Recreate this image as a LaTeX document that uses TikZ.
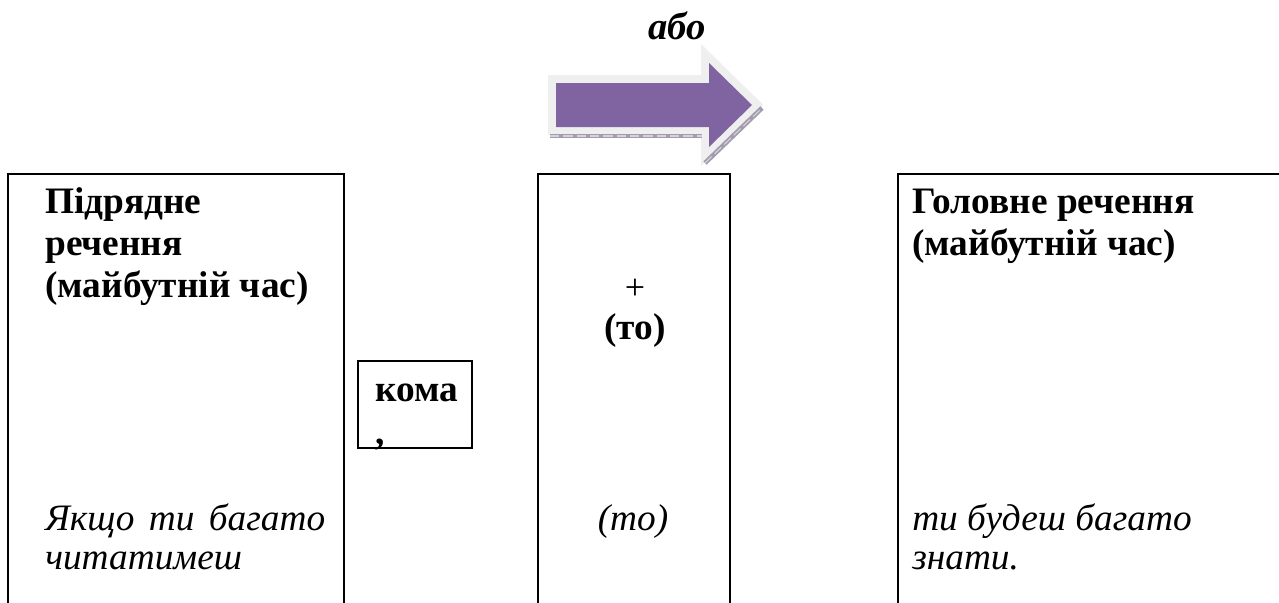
\documentclass[tikz,border=0pt]{standalone}
\usepackage{fontspec}
\setmainfont{Liberation Serif}
\usetikzlibrary{fit}
\definecolor{arrowpurple}{HTML}{8064A2}
\definecolor{arrowglow}{HTML}{EFEFEF}
\definecolor{arrowshade}{HTML}{A39CAE}
\newcommand{\hdfont}{\fontsize{28}{32}\selectfont\bfseries}
\newcommand{\exfont}{\fontsize{28}{32}\selectfont\itshape}

\begin{document}
\begin{tikzpicture}[x=0.75pt,y=-0.75pt,
  frame/.style={draw=black,line width=1.6pt,inner sep=0pt},
  hd/.style={inner sep=0pt,font=\hdfont},
  ex/.style={inner sep=0pt,font=\exfont}]
\clip (0,0) rectangle (1279,603);

% "or" label and the block arrow
\node[inner sep=0pt,font=\fontsize{29}{34}\selectfont\bfseries\itshape,anchor=base] (or) at (677,39) {або};
\draw[arrowglow,line width=12pt,line join=miter,fill=arrowglow]
  (556,83) -- (709,83) -- (709,63) -- (752,105) -- (709,147) -- (709,127) -- (556,127) -- cycle;
\draw[arrowshade,line width=3pt] (550,136) -- (702,136);
\draw[arrowshade,line width=3.5pt] (705,163) -- (762,108);
\draw[white!55!arrowshade,line width=0.8pt,dash pattern=on 7pt off 3pt] (550,136) -- (702,136);
\draw[white!55!arrowshade,line width=0.8pt,dash pattern=on 7pt off 3pt] (705,163) -- (762,108);
\fill[arrowpurple]
  (556,83) -- (709,83) -- (709,63) -- (752,105) -- (709,147) -- (709,127) -- (556,127) -- cycle;

% frames (open at the bottom of the page)
\node[frame,fit={(8,174) (344,640)}] (sub) {};
\node[frame,fit={(358,361) (472,448)}] (comma) {};
\node[frame,fit={(538,174) (730,640)}] (mid) {};
\node[frame,fit={(898,174) (1300,640)}] (main) {};

% subordinate clause
\node[hd,anchor=base west] (sub1) at (45,213) {Підрядне};
\node[hd,anchor=base west] (sub2) at (45,255) {речення};
\node[hd,anchor=base west] (sub3) at (45,297) {(майбутній час)};
\node[ex,anchor=base west] (subex1) at (45,530) {\makebox[210pt][s]{Якщо ти багато}};
\node[ex,anchor=base west] (subex2) at (45,569) {читатимеш};

% comma
\node[hd,anchor=base west] (comma1) at (375,401) {кома};
\node[hd,anchor=base west] (comma2) at (375,444) {,};

% conjunction
\node[inner sep=0pt,font=\fontsize{27}{31}\selectfont] (plus) at (635,289) {+};
\node[hd,anchor=base] (to1) at (635,339) {(то)};
\node[ex,anchor=base] (to2) at (633,530) {(то)};

% main clause
\node[hd,anchor=base west] (main1) at (912,213) {Головне речення};
\node[hd,anchor=base west] (main2) at (912,255) {(майбутній час)};
\node[ex,anchor=base west] (mainex1) at (912,530) {ти будеш багато};
\node[ex,anchor=base west] (mainex2) at (912,569) {знати.};
\end{tikzpicture}
\end{document}
